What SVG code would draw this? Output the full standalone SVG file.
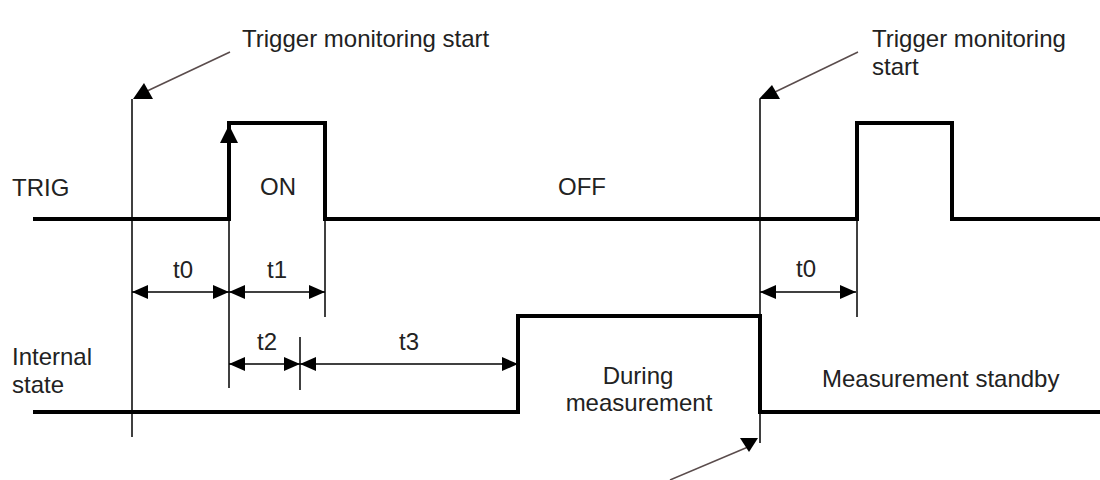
<svg xmlns="http://www.w3.org/2000/svg" width="1100" height="480" viewBox="0 0 1100 480">
<style>
text{font-family:"Liberation Sans",Arial,sans-serif;font-size:24px;fill:#222}
.mid{text-anchor:middle}
.sig{fill:none;stroke:#000;stroke-width:4;stroke-linejoin:miter}
.thin{fill:none;stroke:#000;stroke-width:1.5}
.dim{fill:none;stroke:#000;stroke-width:1.5;marker-start:url(#ah);marker-end:url(#ah)}
.lead{fill:none;stroke:#5a4c4c;stroke-width:1.5}
.head{fill:#000}
</style>
<defs>
<marker id="ah" markerUnits="userSpaceOnUse" viewBox="0 0 16 14" markerWidth="16" markerHeight="14" refX="16" refY="7" orient="auto-start-reverse">
<path d="M0,0 L16,7 L0,14 z" fill="#000"/>
</marker>
</defs>
<rect width="1100" height="480" fill="#fff"/>

<g id="trig-signal">
<text x="12" y="196">TRIG</text>
<path class="sig" d="M33,219 H229 V123 H325 V219 H857 V123 H952 V219 H1100"/>
<polygon class="head" points="229,125 238,143 220,143"/>
<text class="mid" x="278" y="195">ON</text>
<text class="mid" x="582" y="195">OFF</text>
</g>

<g id="internal-state">
<text x="12" y="365">Internal</text>
<text x="12" y="393">state</text>
<path class="sig" d="M33,412 H518 V316 H760 V412 H1100"/>
<text class="mid" x="638" y="384">During</text>
<text class="mid" x="639" y="411">measurement</text>
<text x="822" y="387">Measurement standby</text>
</g>

<g id="monitor-start-1">
<text x="242" y="47">Trigger monitoring start</text>
</g>
<g id="monitor-start-2">
<text x="872" y="47">Trigger monitoring</text>
<text x="872" y="75">start</text>
</g>

<g id="connectors">
<path class="thin" d="M132,99 V437"/>
<path class="thin" d="M229,219 V388"/>
<path class="thin" d="M325,219 V317"/>
<path class="thin" d="M300,337 V390"/>
<path class="thin" d="M760,99 V316 M760,412 V443"/>
<path class="thin" d="M857,219 V317"/>

<path class="dim" d="M132,292 H229"/>
<path class="dim" d="M229,292 H325"/>
<path class="dim" d="M229,364 H300"/>
<path class="dim" d="M300,364 H518"/>
<path class="dim" d="M760,292 H856"/>

<path class="lead" d="M145,92 L230,52"/>
<polygon class="head" points="133,99 153,99 144,83"/>
<path class="lead" d="M775,92 L858,52"/>
<polygon class="head" points="759,99 780,99 772,85"/>
<path class="lead" d="M748,447 L670,480"/>
<polygon class="head" points="740,438 758,438 749,452"/>
</g>

<g id="dim-labels">
<text class="mid" x="183" y="278">t0</text>
<text class="mid" x="277" y="278">t1</text>
<text class="mid" x="267" y="350">t2</text>
<text class="mid" x="409" y="350">t3</text>
<text class="mid" x="806" y="277">t0</text>
</g>
</svg>
